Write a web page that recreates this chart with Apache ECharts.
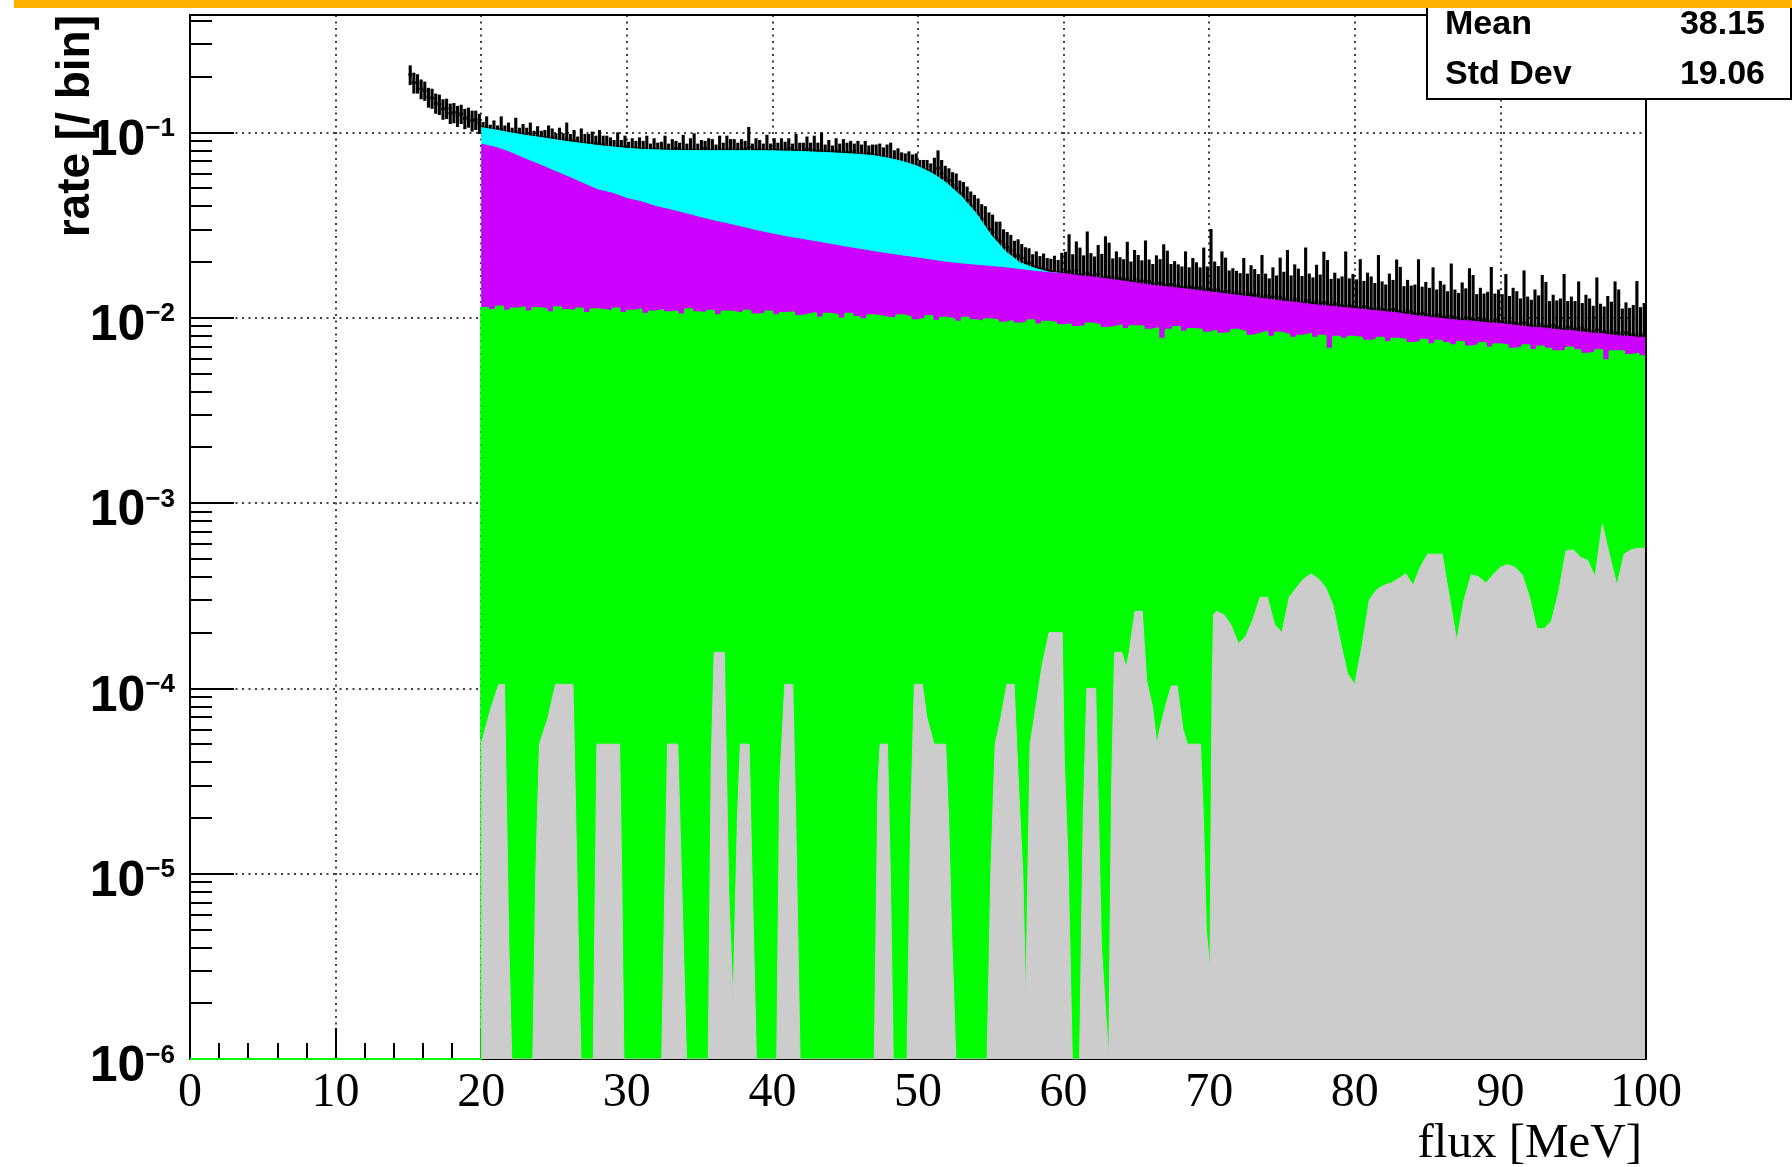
<!DOCTYPE html>
<html>
<head>
<meta charset="utf-8">
<script src="https://cdn.jsdelivr.net/npm/echarts@6/dist/echarts.min.js"></script>
<style>html,body{margin:0;padding:0;background:#fff;}#c{width:1792px;height:1167px;}</style>
</head>
<body>
<div id="c"></div>
<script>
// ---------------- axes ----------------
const X_MIN = 0, X_MAX = 100, X_STEP = 10;
const Y_MIN = 1e-6, Y_MAX = 0.43;
const yDecades = [1e-6, 1e-5, 1e-4, 1e-3, 1e-2, 1e-1];
const statsLabels = ['Mean', 'Std Dev'];
const statsValues = ['38.15', '19.06'];
const xTitle = 'flux [MeV]';
const yTitle = 'rate [/ bin]';

// ---------------- measured data histogram (bins of 0.25 MeV from 15 MeV) ----------------
const dataBinStart = 15, dataBinWidth = 0.25;
const dataVal = [
0.205,0.186,0.184,0.172, 0.168,0.155,0.153,0.144, 0.142,0.134,0.135,0.127, 0.128,0.123,0.126,0.119, 0.121,0.116,0.117,0.112,
0.104,0.106,0.101,0.103, 0.100,0.104,0.099,0.101, 0.097,0.100,0.096,0.097, 0.095,0.097,0.093,0.095, 0.092,0.094,0.091,0.093,
0.090,0.092,0.089,0.091, 0.088,0.090,0.086,0.088, 0.086,0.088,0.085,0.087, 0.084,0.086,0.083,0.084, 0.082,0.084,0.081,0.083,
0.081,0.080,0.082,0.079, 0.081,0.080,0.079,0.081, 0.080,0.078,0.081,0.079, 0.080,0.082,0.078,0.080, 0.079,0.081,0.080,0.078,
0.080,0.082,0.079,0.080, 0.078,0.081,0.079,0.080, 0.082,0.079,0.080,0.078, 0.081,0.083,0.079,0.080, 0.081,0.078,0.080,0.079,
0.081,0.080,0.078,0.080, 0.082,0.079,0.080,0.078, 0.079,0.081,0.078,0.080, 0.079,0.080,0.078,0.079, 0.077,0.079,0.078,0.076,
0.078,0.077,0.079,0.076, 0.077,0.075,0.077,0.074, 0.075,0.073,0.074,0.071, 0.072,0.070,0.069,0.068, 0.068,0.066,0.066,0.065,
0.064,0.063,0.062,0.060, 0.061,0.064,0.060,0.057, 0.055,0.052,0.050,0.047, 0.045,0.043,0.040,0.038, 0.036,0.034,0.032,0.030,
0.029,0.027,0.026,0.025, 0.024,0.023,0.022,0.0215, 0.021,0.020,0.0197,0.019, 0.0188,0.0185,0.0182,0.018, 0.0178,0.0176,0.0175,0.0174,
0.0175,0.0178,0.0172,0.0180, 0.0171,0.0166,0.0174,0.0169, 0.0168,0.0172,0.0163,0.0167, 0.0165,0.0160,0.0166,0.0163, 0.0160,0.0162,0.0157,0.0161,
0.0156,0.0158,0.0153,0.0157, 0.0153,0.0149,0.0154,0.0151, 0.0149,0.0151,0.0146,0.0150, 0.0146,0.0142,0.0147,0.0145, 0.0143,0.0145,0.0140,0.0144,
0.0141,0.0139,0.0142,0.0138, 0.0137,0.0139,0.0134,0.0138, 0.0134,0.0131,0.0136,0.0133, 0.0131,0.0133,0.0128,0.0132, 0.0128,0.0130,0.0125,0.0129,
0.0125,0.0127,0.0122,0.0126, 0.0123,0.0120,0.0124,0.0122, 0.0120,0.0122,0.0118,0.0121, 0.0118,0.0116,0.0119,0.0117, 0.0116,0.0114,0.0117,0.0115,
0.0114,0.0112,0.0115,0.0113, 0.0112,0.0110,0.0113,0.0111, 0.0110,0.0108,0.0111,0.0109, 0.0108,0.0106,0.0109,0.0107, 0.0105,0.0104,0.0106,0.0104,
0.0103,0.0101,0.0104,0.0102, 0.0101,0.0099,0.0102,0.0100, 0.0099,0.0097,0.0100,0.0098, 0.0098,0.0096,0.0099,0.0097, 0.0096,0.0094,0.0097,0.0095,
0.0095,0.0093,0.0096,0.0094, 0.0093,0.0091,0.0094,0.0092, 0.0091,0.0089,0.0092,0.0090, 0.0090,0.0088,0.0091,0.0089, 0.0088,0.0086,0.0089,0.0087,
0.0087,0.0085,0.0088,0.0086, 0.0085,0.0083,0.0086,0.0084, 0.0084,0.0082,0.0085,0.0083, 0.0082,0.0080,0.0083,0.0081, 0.0081,0.0079,0.0082,0.0080
];
const dataErr = [
0.025,0.024,0.022,0.021, 0.020,0.019,0.019,0.018, 0.018,0.017,0.017,0.016, 0.016,0.016,0.015,0.015, 0.015,0.015,0.014,0.014,
0.010,0.016,0.009,0.013, 0.009,0.018,0.010,0.012, 0.009,0.020,0.010,0.014, 0.011,0.016,0.009,0.013, 0.010,0.009,0.018,0.012,
0.009,0.014,0.010,0.022, 0.010,0.013,0.009,0.017, 0.012,0.010,0.016,0.009, 0.019,0.010,0.013,0.010, 0.009,0.016,0.010,0.013,
0.008,0.013,0.008,0.015, 0.009,0.016,0.008,0.012, 0.008,0.011,0.015,0.008, 0.012,0.008,0.010,0.017, 0.008,0.012,0.019,0.009,
0.011,0.008,0.014,0.012, 0.008,0.015,0.009,0.016, 0.010,0.013,0.008,0.014, 0.009,0.024,0.008,0.013, 0.010,0.009,0.017,0.008,
0.012,0.008,0.015,0.009, 0.011,0.008,0.018,0.010, 0.009,0.014,0.010,0.016, 0.009,0.020,0.008,0.012, 0.008,0.014,0.009,0.016,
0.010,0.013,0.008,0.014, 0.009,0.015,0.008,0.012, 0.011,0.014,0.009,0.015, 0.016,0.010,0.013,0.010, 0.009,0.013,0.010,0.012,
0.007,0.008,0.009,0.008, 0.012,0.016,0.011,0.009, 0.009,0.009,0.010,0.008, 0.009,0.008,0.008,0.008, 0.008,0.007,0.008,0.007,
0.007,0.006,0.007,0.005, 0.005,0.005,0.004,0.005, 0.004,0.004,0.004,0.003, 0.004,0.003,0.004,0.003, 0.003,0.004,0.003,0.005,
0.0052,0.0104,0.0048,0.0078, 0.0068,0.0051,0.0118,0.0054, 0.0046,0.0075,0.0058,0.0108, 0.0089,0.0049,0.0062,0.0049, 0.0047,0.0095,0.0044,0.0071,
0.0062,0.0046,0.0108,0.0049, 0.0042,0.0068,0.0053,0.0098, 0.0081,0.0044,0.0056,0.0044, 0.0043,0.0086,0.0040,0.0065, 0.0056,0.0042,0.0099,0.0045,
0.0160,0.0062,0.0048,0.0090, 0.0074,0.0041,0.0051,0.0041, 0.0040,0.0079,0.0037,0.0059, 0.0052,0.0039,0.0090,0.0041, 0.0035,0.0057,0.0044,0.0082,
0.0052,0.0105,0.0047,0.0068, 0.0061,0.0048,0.0115,0.0051, 0.0045,0.0071,0.0053,0.0106, 0.0087,0.0046,0.0056,0.0046, 0.0051,0.0114,0.0046,0.0057,
0.0047,0.0095,0.0043,0.0062, 0.0055,0.0044,0.0105,0.0046, 0.0041,0.0065,0.0049,0.0097, 0.0080,0.0042,0.0051,0.0042, 0.0046,0.0103,0.0041,0.0052,
0.0042,0.0086,0.0038,0.0056, 0.0050,0.0040,0.0094,0.0042, 0.0037,0.0058,0.0044,0.0087, 0.0072,0.0038,0.0046,0.0038, 0.0042,0.0094,0.0038,0.0047,
0.0039,0.0079,0.0035,0.0051, 0.0046,0.0036,0.0086,0.0038, 0.0034,0.0053,0.0040,0.0080, 0.0066,0.0035,0.0042,0.0035, 0.0039,0.0086,0.0034,0.0043,
0.0036,0.0072,0.0032,0.0047, 0.0042,0.0033,0.0079,0.0035, 0.0031,0.0049,0.0037,0.0074, 0.0060,0.0032,0.0038,0.0032, 0.0036,0.0079,0.0032,0.0040
];

// ---------------- stacked MC (cumulative levels, as a THStack draws them) ----------------
// all components (cyan top), 1 MeV points from 20 MeV
const cyanStart = 20, cyanStep = 1;
const cyanLevel = [
0.106,0.103,0.0995,0.0965,0.094,0.0915,0.089,0.087,0.085,0.0835,
0.082,0.081,0.0805,0.080,0.0798,0.0797,0.0797,0.0797,0.0797,0.0796,
0.0795,0.0792,0.0788,0.0782,0.0776,0.0769,0.076,0.0748,0.0725,0.0695,
0.0655,0.060,0.053,0.045,0.0365,0.028,0.0228,0.0198,0.0185,0.0176,
0.0173
];
// magenta + green + gray, 1 MeV points from 20 MeV
const magentaStart = 20, magentaStep = 1;
const magentaLevel = [
0.0865,0.083,0.078,0.072,0.067,0.062,0.0575,0.053,0.049,0.047,
0.044,0.0422,0.0398,0.0382,0.0365,0.0348,0.0333,0.032,0.0307,0.0294,
0.0283,0.0273,0.0265,0.0257,0.0249,0.0241,0.0234,0.0227,0.0221,0.0215,
0.021,0.0204,0.0199,0.0195,0.0192,0.0189,0.0186,0.0182,0.0178,0.0175,
0.0173,0.0169,0.0166,0.0162,0.0158,0.0154,0.015,0.0147,0.0144,0.0141,
0.0138,0.0135,0.0132,0.0129,0.0126,0.0123,0.0121,0.0118,0.0116,0.0114,
0.0112,0.011,0.0108,0.0106,0.0103,0.0101,0.0099,0.0097,0.0096,0.0094,
0.0093,0.0091,0.0089,0.0088,0.0086,0.0085,0.0083,0.0082,0.008,0.0079,
0.0078
];
// green + gray, bins of 0.5 MeV from 0 MeV
const greenStart = 0, greenStep = 0.5;
const greenLevel = [
0,0,0,0,0,0,0,0,0,0, 0,0,0,0,0,0,0,0,0,0, 0,0,0,0,0,0,0,0,0,0, 0,0,0,0,0,0,0,0,0,0,
.0113,.0110, .0115,.0109, .0112,.0114, .0108,.0113, .0111,.0107, .0114,.0110, .0109,.0112, .0106,.0111, .0110,.0108, .0112,.0106,
.0109,.0111, .0105,.0108, .0110,.0107, .0108,.0104, .0111,.0107, .0106,.0109, .0103,.0108, .0107,.0105, .0109,.0104, .0105,.0108,
.0103,.0106, .0107,.0102, .0104,.0106, .0100,.0105, .0103,.0099, .0105,.0101, .0098,.0103, .0102,.0100, .0099,.0103, .0101,.0097,
.0099,.0102, .0096,.0100, .0098,.0095, .0100,.0097, .0095,.0098, .0097,.0094, .0096,.0093, .0094,.0097, .0092,.0095, .0094,.0091,
.0092,.0089, .0090,.0093, .0091,.0088, .0089,.0091, .0087,.0090, .0090,.0086, .0088,.0077, .0086,.0089, .0084,.0087, .0086,.0083,
.0085,.0082, .0083,.0086, .0084,.0080, .0082,.0084, .0079,.0083, .0081,.0078, .0080,.0082, .0078,.0080, .0068,.0079, .0077,.0079,
.0078,.0075, .0076,.0078, .0074,.0077, .0076,.0073, .0074,.0076, .0072,.0075, .0073,.0071, .0074,.0070, .0071,.0073, .0069,.0072,
.0071,.0068, .0069,.0071, .0067,.0070, .0068,.0066, .0066,.0069, .0067,.0064, .0065,.0067, .0059,.0066, .0066,.0063, .0064,.0062
];
// gray only: energies [MeV] and levels read at the break points of the drawn curve
const grayEnergy = [
20.0,20.6,21.2,21.6,21.75,21.9,22.1, 23.55,23.75,24.0,24.6,25.1,26.3,26.45,26.65,26.85,
27.7,27.95,29.5,29.65,29.8, 32.4,32.8,33.5,33.75,34.1,
35.6,35.8,36.0,36.7,36.85,37.0,37.3,37.6,37.8,38.4,38.6,38.9,
40.3,40.5,40.85,41.4,41.6,41.9, 47.0,47.25,47.4,47.9,48.1,48.3,
49.25,49.5,49.75,50.3,50.6,51.1,51.9,52.1,52.3,52.6,
54.75,55.0,55.3,55.7,56.1,56.6,56.9,57.2,57.4,57.55,57.7,58.2,58.5,59.0,59.9,60.05,60.3,60.6,
61.1,61.35,61.6,62.2,62.4,62.6,63.1,63.3,63.5,64.0,64.3,64.5,64.9,65.4,65.7,66.1,66.4,66.6,67.0,67.4,67.8,68.2,68.5,69.4,69.6,69.8,70.05,70.2,70.3,
70.5,71.0,71.5,72.0,72.5,73.0,73.5,74.0,74.5,75.0,75.5,76.0,76.5,77.0,77.5,78.0,78.5,79.0,79.5,
80.0,80.5,81.0,81.5,82.0,82.5,83.0,83.5,84.0,84.5,85.0,85.5,86.0,86.5,87.0,87.5,88.0,88.5,89.0,89.5,
90.0,90.5,91.0,91.5,92.0,92.5,93.0,93.5,94.0,94.5,95.0,95.5,96.0,96.5,97.0,97.5,98.0,98.5,99.0,99.5,100.0
];
const grayLevel = [
5e-5,7.5e-5,1.05e-4,1.05e-4,2e-5,4e-6,0, 0,1e-5,5e-5,7e-5,1.05e-4,1.05e-4,3e-5,5e-6,0,
0,5e-5,5e-5,1e-5,0, 0,5e-5,5e-5,1e-5,0,
0,4e-5,1.56e-4,1.56e-4,3.4e-5,8e-6,2e-6,2e-5,5e-5,5e-5,1e-5,0,
0,3e-5,1.05e-4,1.05e-4,2e-5,0, 0,3e-5,5e-5,5e-5,1e-5,0,
0,2e-5,1.05e-4,1.05e-4,7e-5,5e-5,5e-5,2e-5,5e-6,0,
0,1e-5,5e-5,7e-5,1.05e-4,1.05e-4,3e-5,1e-5,2e-6,1e-5,5e-5,9e-5,1.3e-4,2.0e-4,2.0e-4,4e-5,1.2e-5,0,
0,2e-5,1.0e-4,1.0e-4,2e-5,4e-6,0,3e-5,1.56e-4,1.56e-4,1.3e-4,1.56e-4,2.6e-4,2.6e-4,1.1e-4,8e-5,5e-5,6e-5,8e-5,1.03e-4,1.03e-4,6e-5,5e-5,5e-5,2e-5,5e-6,3e-6,1e-4,2.5e-4,
2.6e-4,2.5e-4,2.2e-4,1.74e-4,1.9e-4,2.35e-4,3.1e-4,3.1e-4,2.2e-4,2.0e-4,3.1e-4,3.5e-4,3.9e-4,4.15e-4,3.9e-4,3.5e-4,2.8e-4,1.8e-4,1.2e-4,
1.05e-4,1.7e-4,3.0e-4,3.4e-4,3.6e-4,3.7e-4,3.9e-4,4.15e-4,3.6e-4,4.5e-4,5.3e-4,5.3e-4,5.3e-4,3.1e-4,1.8e-4,3.0e-4,4.1e-4,4.0e-4,3.7e-4,4.1e-4,
4.5e-4,4.65e-4,4.5e-4,4.1e-4,3.1e-4,2.1e-4,2.1e-4,2.3e-4,3.3e-4,5.5e-4,5.6e-4,5.1e-4,4.9e-4,4.0e-4,7.7e-4,5.2e-4,3.6e-4,5.3e-4,5.6e-4,5.7e-4,5.7e-4
];

// ---------------- builders ----------------
function floorLog(v) { return v > 0 ? v : Y_MIN; } // empty bins sit on the log-axis floor, as in ROOT
function linePts(x0, dx, vals) { return vals.map((v, i) => [x0 + i * dx, floorLog(v)]); }
function pairPts(xs, vals) { return vals.map((v, i) => [xs[i], floorLog(v)]); }
function stepPts(x0, dx, vals) {
  const p = vals.map((v, i) => [x0 + i * dx, floorLog(v)]);
  p.push([x0 + vals.length * dx, floorLog(vals[vals.length - 1])]);
  return p;
}
const dataItems = dataVal.map((v, i) => [dataBinStart + (i + 0.5) * dataBinWidth, v, dataErr[i]]);

const yMinor = [];
for (let e = -6; e <= -1; e++) {
  for (let m = 2; m <= 9; m++) {
    const v = Number((m * Math.pow(10, e)).toPrecision(6));
    if (v <= Y_MAX) yMinor.push(v);
  }
}

function renderErrorBar(params, api) {
  const x = api.value(0), v = api.value(1), e = api.value(2);
  const hw = dataBinWidth / 2;
  const lo = Math.max(v - e, Y_MIN);
  const pT = api.coord([x, v + e]);
  const pB = api.coord([x, lo]);
  const pL = api.coord([x - hw, v]);
  const pR = api.coord([x + hw, v]);
  return {
    type: 'group',
    children: [
      { type: 'line', shape: { x1: pT[0], y1: pT[1], x2: pB[0], y2: pB[1] }, style: { stroke: '#000', lineWidth: 3.1 } },
      { type: 'line', shape: { x1: pL[0], y1: pL[1], x2: pR[0], y2: pR[1] }, style: { stroke: '#000', lineWidth: 2.6 } }
    ]
  };
}

function areaSeries(name, color, pts, z, step, lw) {
  return {
    type: 'line', name: name, data: pts, z: z, step: step || false,
    symbol: 'none', showSymbol: false, silent: true, clip: true,
    lineStyle: { color: color, width: lw || 1 },
    areaStyle: { color: color, opacity: 1, origin: 'start' }
  };
}

const chart = echarts.init(document.getElementById('c'), null, { renderer: 'canvas' });
const AX = '#000';
const SANS = 'Liberation Sans', SERIF = 'Liberation Serif';

chart.setOption({
  animation: false,
  backgroundColor: '#fff',
  grid: { left: 190, right: 146, top: 15, bottom: 108, containLabel: false, outerBoundsMode: 'none' },
  xAxis: [
    {
      type: 'value', min: X_MIN, max: X_MAX, interval: X_STEP, position: 'bottom',
      axisLine: { show: true, onZero: false, lineStyle: { color: AX, width: 2 } },
      axisTick: { show: true, inside: true, length: 31, lineStyle: { color: AX, width: 2 } },
      minorTick: { show: true, splitNumber: 5, length: 16, lineStyle: { color: AX, width: 2 } },
      splitLine: { show: true, lineStyle: { color: AX, width: 1.5, type: [2, 4.5] } },
      axisLabel: { show: true, margin: 10, color: '#000', fontFamily: SERIF, fontSize: 48, lineHeight: 48,
                   showMinLabel: true, showMaxLabel: true },
      name: xTitle, nameLocation: 'end', nameGap: -4, nameMoveOverlap: false,
      nameTextStyle: { color: '#000', fontFamily: SERIF, fontSize: 49, lineHeight: 49,
                       align: 'right', verticalAlign: 'top', padding: [61, 0, 0, 0] }
    },
    {
      type: 'value', min: X_MIN, max: X_MAX, position: 'top', z: 10,
      axisLine: { show: true, onZero: false, lineStyle: { color: AX, width: 2 } },
      axisTick: { show: false }, axisLabel: { show: false }, splitLine: { show: false }
    }
  ],
  yAxis: [
    {
      type: 'log', logBase: 10, min: Y_MIN, max: Y_MAX, position: 'left',
      axisLine: { show: true, onZero: false, lineStyle: { color: AX, width: 2 } },
      axisTick: { show: true, inside: true, length: 44, customValues: yDecades, lineStyle: { color: AX, width: 2 } },
      splitLine: { show: true, lineStyle: { color: AX, width: 1.5, type: [2, 4.5] } },
      axisLabel: {
        show: true, customValues: yDecades, margin: 15, padding: [17, 0, 0, 0],
        formatter: function (v) {
          const n = Math.round(Math.log10(v));
          return '{b|10}{s|' + (n < 0 ? '\u2212' : '') + Math.abs(n) + '}';
        },
        rich: {
          b: { fontFamily: SANS, fontWeight: 'bold', fontSize: 50, lineHeight: 50, color: '#000' },
          s: { fontFamily: SANS, fontWeight: 'bold', fontSize: 26, lineHeight: 26, color: '#000', verticalAlign: 'top' }
        }
      }
    },
    {
      type: 'log', logBase: 10, min: Y_MIN, max: Y_MAX, position: 'left',
      axisLine: { show: false },
      axisTick: { show: true, inside: true, length: 22, customValues: yMinor, lineStyle: { color: AX, width: 2 } },
      axisLabel: { show: false }, splitLine: { show: false }
    },
    {
      type: 'log', logBase: 10, min: Y_MIN, max: Y_MAX, position: 'right', z: 10,
      axisLine: { show: true, onZero: false, lineStyle: { color: AX, width: 2 } },
      axisTick: { show: false }, axisLabel: { show: false }, splitLine: { show: false }
    }
  ],
  series: [
    {
      type: 'custom', name: 'data', renderItem: renderErrorBar, data: dataItems,
      encode: { x: 0, y: 1 }, z: 1, clip: true, silent: true
    },
    areaSeries('cyan', '#00ffff', linePts(cyanStart, cyanStep, cyanLevel), 2),
    areaSeries('magenta', '#cc00ff', linePts(magentaStart, magentaStep, magentaLevel), 3),
    areaSeries('green', '#00ff00', stepPts(greenStart, greenStep, greenLevel), 4, 'end', 2),
    areaSeries('gray', '#cccccc', pairPts(grayEnergy, grayLevel), 5)
  ],
  graphic: [
    {
      type: 'text', x: 99, y: 15, rotation: Math.PI / 2, z: 50, silent: true,
      style: { text: yTitle, fontFamily: SANS, fontWeight: 'bold', fontSize: 46, fill: '#000',
               align: 'right', verticalAlign: 'bottom' }
    },
    {
      type: 'rect', z: 100, silent: true,
      shape: { x: 1427, y: -10, width: 364, height: 109 },
      style: { fill: '#fff', stroke: '#000', lineWidth: 2 }
    },
    { type: 'text', x: 1445, y: 25, z: 101, silent: true,
      style: { text: statsLabels[0], fontFamily: SANS, fontWeight: 'bold', fontSize: 34, fill: '#000', align: 'left', verticalAlign: 'middle' } },
    { type: 'text', x: 1765, y: 25, z: 101, silent: true,
      style: { text: statsValues[0], fontFamily: SANS, fontWeight: 'bold', fontSize: 34, fill: '#000', align: 'right', verticalAlign: 'middle' } },
    { type: 'text', x: 1445, y: 75, z: 101, silent: true,
      style: { text: statsLabels[1], fontFamily: SANS, fontWeight: 'bold', fontSize: 34, fill: '#000', align: 'left', verticalAlign: 'middle' } },
    { type: 'text', x: 1765, y: 75, z: 101, silent: true,
      style: { text: statsValues[1], fontFamily: SANS, fontWeight: 'bold', fontSize: 34, fill: '#000', align: 'right', verticalAlign: 'middle' } },
    {
      type: 'rect', z: 110, silent: true,
      shape: { x: 14, y: 0, width: 1778, height: 8 },
      style: { fill: '#ffb000' }
    }
  ]
});
</script>
</body>
</html>
